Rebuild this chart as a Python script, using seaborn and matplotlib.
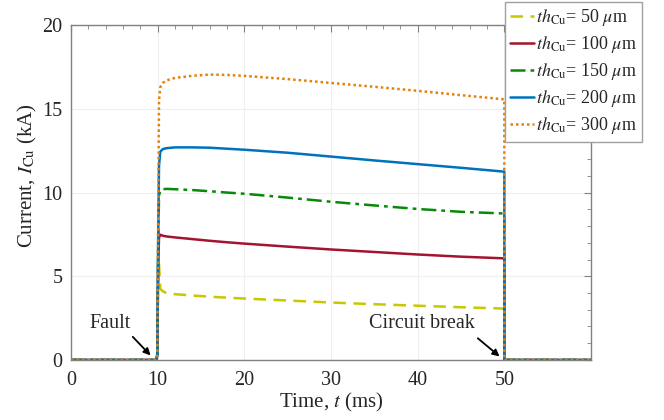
import numpy as np
import pandas as pd
import seaborn as sns
import matplotlib.pyplot as plt
from matplotlib.ticker import MultipleLocator

# time base (ms) shared by all curves; 50 appears twice for the vertical break
t = [0, 9.85, 9.95, 10.05, 10.15, 10.3, 10.6, 11, 12, 14, 16, 18, 20, 25, 30, 35, 40, 45, 50, 50, 60]

i_50 = [0, 0, 0.3, 4.5, 5.7, 4.25, 4.1, 4.0, 3.93, 3.85, 3.78, 3.72, 3.67, 3.55, 3.43, 3.33, 3.24, 3.15, 3.07, 0, 0]
i_100 = [0, 0, 0.3, 5.5, 7.3, 7.48, 7.42, 7.38, 7.32, 7.22, 7.12, 7.03, 6.95, 6.77, 6.6, 6.45, 6.3, 6.17, 6.07, 0, 0]
i_150 = [0, 0, 0.3, 6.5, 9.8, 10.15, 10.2, 10.22, 10.2, 10.15, 10.08, 10.0, 9.93, 9.7, 9.45, 9.23, 9.02, 8.85, 8.75, 0, 0]
i_200 = [0, 0, 0.3, 7.0, 11.6, 12.45, 12.6, 12.65, 12.7, 12.7, 12.68, 12.62, 12.56, 12.38, 12.15, 11.92, 11.7, 11.48, 11.25, 0, 0]
i_300 = [0, 0, 0.3, 8.0, 15.5, 16.3, 16.55, 16.7, 16.85, 16.98, 17.05, 17.03, 16.97, 16.78, 16.55, 16.32, 16.08, 15.82, 15.57, 0, 0]

labels = [r"$th_{\mathrm{Cu}}$= 50 $\mu$m", r"$th_{\mathrm{Cu}}$= 100 $\mu$m",
          r"$th_{\mathrm{Cu}}$= 150 $\mu$m", r"$th_{\mathrm{Cu}}$= 200 $\mu$m",
          r"$th_{\mathrm{Cu}}$= 300 $\mu$m"]

sns.set_style("whitegrid")
plt.rcParams['font.family'] = ['Liberation Serif', 'DejaVu Serif']
plt.rcParams['mathtext.fontset'] = 'stix'

fig = plt.figure(figsize=(6.64, 4.2), dpi=100)
ax = fig.add_axes([0.107, 0.143, 0.783, 0.797])

styles = [
    (i_50, '#C8C800', (0, (5, 3))),
    (i_100, '#A2142F', '-'),
    (i_150, '#078A07', (0, (6, 2, 1.5, 2))),
    (i_200, '#0072BD', '-'),
    (i_300, '#E5800A', (0, (1, 1.2))),
]
for (vals, col, ls), lab in zip(styles, labels):
    df = pd.DataFrame({"t": t, "I": vals})
    sns.lineplot(data=df, x="t", y="I", ax=ax, color=col, linestyle=ls, lw=1.8,
                 sort=False, estimator=None, label=lab)

ax.set_xlim(0, 60)
ax.set_ylim(0, 20)
ax.set_xticks([0, 10, 20, 30, 40, 50])
ax.set_yticks([0, 5, 10, 15, 20])
ax.xaxis.set_minor_locator(MultipleLocator(2))
ax.yaxis.set_minor_locator(MultipleLocator(1))
ax.tick_params(which='both', direction='in', top=True, right=True, color='#808080',
               labelsize=14.5, labelcolor='#262626')
ax.tick_params(which='major', length=5)
ax.tick_params(which='minor', length=3)
ax.tick_params(axis='x', pad=8)
ax.tick_params(axis='y', pad=6)
ax.grid(True, which='major', color='#EFEFEF', lw=0.8)
for s in ax.spines.values():
    s.set_color('#808080')
    s.set_linewidth(1.0)

ax.set_xlabel(r"Time, $t$ (ms)", fontsize=15, color='#262626', labelpad=1)
ax.set_ylabel(r"Current, $I_{\mathrm{Cu}}$ (kA)", fontsize=15, color='#262626')
ax.yaxis.set_label_coords(-0.062, 0.55)

# annotations
ax.text(4.5, 2.15, "Fault", fontsize=14.5, ha='center', va='center')
ax.annotate('', xy=(9.4, 0.15), xytext=(6.9, 1.5),
            arrowprops=dict(arrowstyle='-|>', color='k', lw=1.3, mutation_scale=10))
ax.text(40.5, 2.15, "Circuit break", fontsize=14.5, ha='center', va='center')
ax.annotate('', xy=(49.7, 0.1), xytext=(46.7, 1.4),
            arrowprops=dict(arrowstyle='-|>', color='k', lw=1.3, mutation_scale=10))

leg = ax.legend(loc='upper right', bbox_to_anchor=(642 / 664, 1 - 2 / 420),
                bbox_transform=fig.transFigure, fontsize=13, handlelength=1.3,
                handletextpad=0.1, borderpad=0.3, labelspacing=0.33,
                fancybox=False, framealpha=1, borderaxespad=0)
leg.get_frame().set_edgecolor('#A0A0A0')
leg.get_frame().set_linewidth(1.0)

fig.savefig("out.png", dpi=100)
